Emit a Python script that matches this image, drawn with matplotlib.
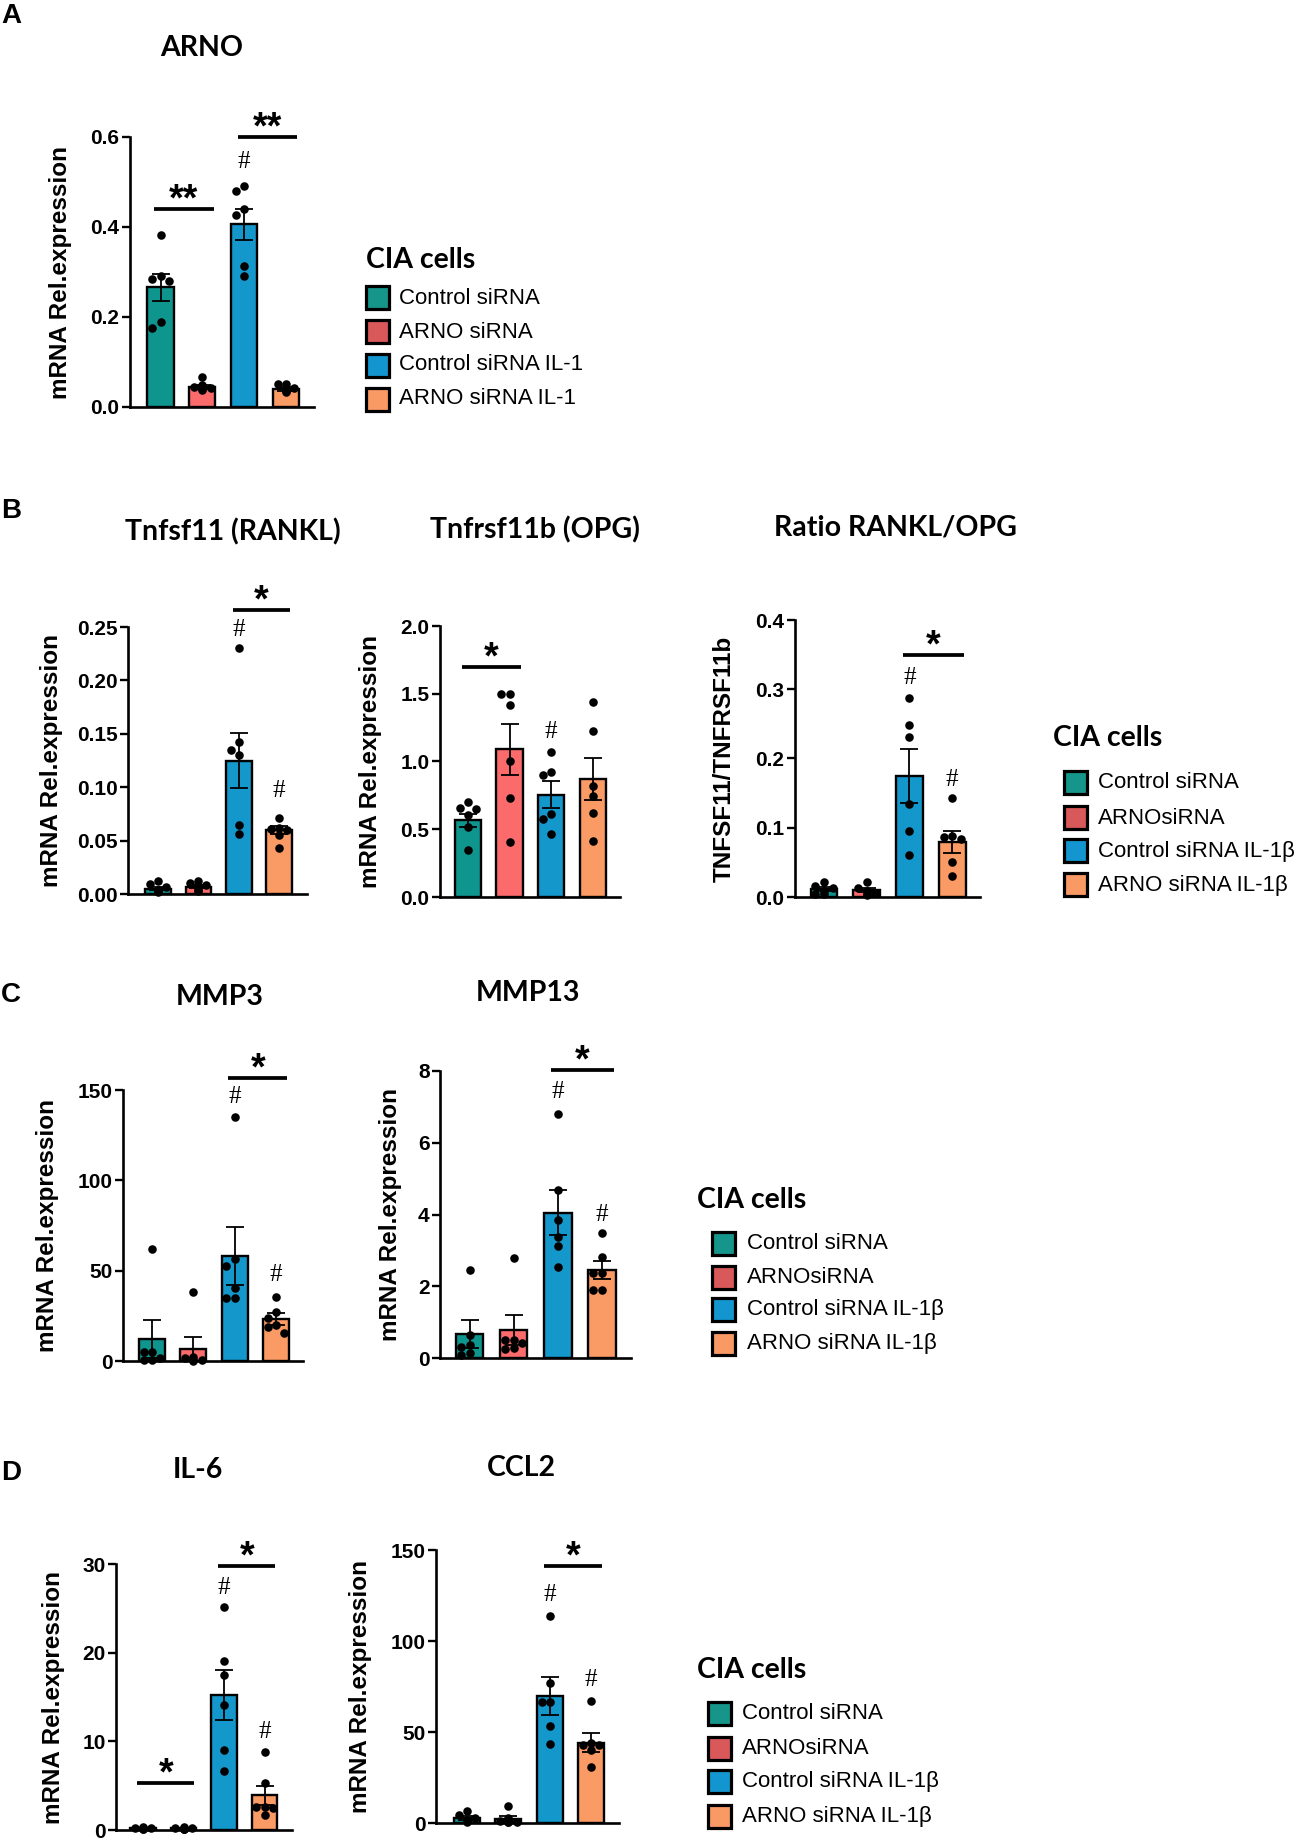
"""
ARNO knockdown in CIA cells - qPCR panels (A-D)
"""
import numpy as np
import matplotlib
matplotlib.use("Agg")
import matplotlib.pyplot as plt
from matplotlib.patches import Rectangle

W, H = 1299, 1844

groups_a = ["Control siRNA", "ARNO siRNA", "Control siRNA IL-1", "ARNO siRNA IL-1"]
groups = ["Control siRNA", "ARNOsiRNA", "Control siRNA IL-1β", "ARNO siRNA IL-1β"]

bar_colors = ["#0E968E", "#FC6B6B", "#1497CB", "#FA9A64"]
legend_colors = ["#16968B", "#D9585A", "#1396CF", "#F99A65"]

# ARNO
arno_mean = [0.266, 0.045, 0.406, 0.040]
arno_sem = [0.030, 0.004, 0.035, 0.004]
arno_pts = [[0.382, 0.290, 0.285, 0.280, 0.188, 0.175],
            [0.066, 0.048, 0.045, 0.042, 0.040, 0.038],
            [0.490, 0.480, 0.440, 0.426, 0.314, 0.290],
            [0.052, 0.050, 0.042, 0.038, 0.035, 0.033]]

# Tnfsf11 (RANKL)
rankl_mean = [0.005, 0.007, 0.125, 0.060]
rankl_sem = [0.0015, 0.0015, 0.026, 0.0035]
rankl_pts = [[0.012, 0.009, 0.007, 0.004, 0.003, 0.002],
             [0.0125, 0.010, 0.008, 0.007, 0.004, 0.003],
             [0.230, 0.142, 0.135, 0.130, 0.065, 0.056],
             [0.071, 0.062, 0.061, 0.060, 0.055, 0.043]]

# Tnfrsf11b (OPG)
opg_mean = [0.566, 1.089, 0.756, 0.872]
opg_sem = [0.050, 0.190, 0.100, 0.157]
opg_pts = [[0.700, 0.658, 0.653, 0.603, 0.517, 0.350],
           [1.497, 1.497, 1.420, 1.005, 0.734, 0.406],
           [1.071, 0.924, 0.899, 0.610, 0.579, 0.468],
           [1.436, 1.222, 0.820, 0.744, 0.623, 0.414]]

# Ratio RANKL/OPG
ratio_mean = [0.011, 0.010, 0.175, 0.079]
ratio_sem = [0.003, 0.003, 0.039, 0.016]
ratio_pts = [[0.022, 0.016, 0.013, 0.008, 0.005, 0.004],
             [0.022, 0.013, 0.009, 0.006, 0.004, 0.003],
             [0.287, 0.249, 0.231, 0.135, 0.096, 0.061],
             [0.143, 0.0875, 0.086, 0.0837, 0.051, 0.030]]

# MMP3
mmp3_mean = [12.2, 6.8, 58.3, 23.1]
mmp3_sem = [10.5, 6.7, 16.0, 3.3]
mmp3_pts = [[62.0, 5.2, 5.0, 1.5, 0.6, 0.5],
            [38.0, 2.4, 1.5, 0.6, 0.4, 0.2],
            [134.9, 56.5, 52.8, 40.6, 34.7, 34.7],
            [35.6, 26.9, 23.6, 19.9, 19.0, 15.7]]

# MMP13
mmp13_mean = [0.68, 0.79, 4.05, 2.46]
mmp13_sem = [0.39, 0.42, 0.63, 0.25]
mmp13_pts = [[2.44, 0.65, 0.37, 0.32, 0.14, 0.09],
             [2.80, 0.51, 0.50, 0.42, 0.28, 0.25],
             [6.81, 4.68, 3.86, 3.38, 3.12, 2.55],
             [3.48, 2.81, 2.36, 2.36, 1.90, 1.90]]

# IL-6
il6_mean = [0.2, 0.2, 15.2, 3.9]
il6_sem = [0.05, 0.05, 2.8, 1.1]
il6_pts = [[0.30, 0.25, 0.20, 0.20, 0.15, 0.10],
           [0.30, 0.25, 0.20, 0.15, 0.15, 0.10],
           [25.2, 19.1, 17.5, 14.1, 9.0, 6.65],
           [8.76, 5.26, 2.63, 2.63, 2.44, 1.69]]

# CCL2
ccl2_mean = [2.7, 2.4, 69.8, 44.2]
ccl2_sem = [1.0, 1.4, 10.2, 5.2]
ccl2_pts = [[6.4, 4.6, 2.5, 1.5, 1.0, 0.8],
            [9.1, 2.7, 1.0, 0.8, 0.5, 0.3],
            [113.9, 76.8, 66.7, 66.7, 53.4, 43.3],
            [67.3, 44.2, 43.0, 43.0, 40.0, 30.5]]

# layout in pixels: y-axis x, x-axis end, top tick y, baseline y, first bar x, bar spacing
panels = [
    dict(title="ARNO", tpos=(202, 48), box=(130, 314, 137, 407, 160.5, 41.8),
         mean=arno_mean, sem=arno_sem, pts=arno_pts,
         ticks=[0, 0.2, 0.4, 0.6], fmt="{:.1f}", ylab="mRNA Rel.expression", ylx=61,
         sig=[(0, 1, 0.439, "**"), (2, 3, 0.599, "**")], hash=[(2, 0.545)]),
    dict(title="Tnfsf11 (RANKL)", tpos=(233, 532), box=(128, 307, 627, 894, 158, 40.4),
         mean=rankl_mean, sem=rankl_sem, pts=rankl_pts,
         ticks=[0, 0.05, 0.10, 0.15, 0.20, 0.25], fmt="{:.2f}", ylab="mRNA Rel.expression", ylx=52,
         sig=[(2, 3, 0.2656, "*")], hash=[(2, 0.247), (3, 0.096)]),
    dict(title="Tnfrsf11b (OPG)", tpos=(535, 530), box=(440, 620, 626, 897, 468, 41.6),
         mean=opg_mean, sem=opg_sem, pts=opg_pts,
         ticks=[0, 0.5, 1.0, 1.5, 2.0], fmt="{:.1f}", ylab="mRNA Rel.expression", ylx=370,
         sig=[(0, 1, 1.70, "*")], hash=[(2, 1.22)]),
    dict(title="Ratio RANKL/OPG", tpos=(895, 527), box=(795, 980, 620, 897, 824, 42.7),
         mean=ratio_mean, sem=ratio_sem, pts=ratio_pts,
         ticks=[0, 0.1, 0.2, 0.3, 0.4], fmt="{:.1f}", ylab="TNFSF11/TNFRSF11b", ylx=724,
         sig=[(2, 3, 0.350, "*")], hash=[(2, 0.316), (3, 0.169)]),
    dict(title="MMP3", tpos=(220, 997), box=(123, 303, 1090, 1361, 152, 41.3),
         mean=mmp3_mean, sem=mmp3_sem, pts=mmp3_pts,
         ticks=[0, 50, 100, 150], fmt="{:.0f}", ylab="mRNA Rel.expression", ylx=48,
         sig=[(2, 3, 156.8, "*")], hash=[(2, 146), (3, 47.6)]),
    dict(title="MMP13", tpos=(528, 993), box=(440, 631, 1071, 1358, 469.5, 44.1),
         mean=mmp13_mean, sem=mmp13_sem, pts=mmp13_pts,
         ticks=[0, 2, 4, 6, 8], fmt="{:.0f}", ylab="mRNA Rel.expression", ylx=390,
         sig=[(2, 3, 8.02, "*")], hash=[(2, 7.41), (3, 3.99)]),
    dict(title="IL-6", tpos=(198, 1470), box=(116, 292, 1564, 1830, 143, 40.5),
         mean=il6_mean, sem=il6_sem, pts=il6_pts,
         ticks=[0, 10, 20, 30], fmt="{:.0f}", ylab="mRNA Rel.expression", ylx=54,
         sig=[(0, 1, 5.26, "*"), (2, 3, 29.8, "*")], hash=[(2, 27.3), (3, 11.1)]),
    dict(title="CCL2", tpos=(521, 1468), box=(436, 619, 1550, 1823, 467, 41.4),
         mean=ccl2_mean, sem=ccl2_sem, pts=ccl2_pts,
         ticks=[0, 50, 100, 150], fmt="{:.0f}", ylab="mRNA Rel.expression", ylx=361,
         sig=[(2, 3, 141.1, "*")], hash=[(2, 125.2), (3, 78.6)]),
]

# legend blocks: title x, title y, square x, square size, text x, row ys
legends = [
    (groups_a, 366, 260, 366, 23, 399, [298, 332, 365, 399]),
    (groups, 1053, 738, 1064, 23, 1098, [783, 818, 851, 885]),
    (groups, 697, 1200, 712, 23, 747, [1243, 1277, 1309, 1343]),
    (groups, 697, 1670, 708, 23, 742, [1713, 1748, 1781, 1816]),
]

letters = [("A", 16), ("B", 511), ("C", 995), ("D", 1473)]

TITLE_FONT = "Lato"
ARIAL = "Liberation Sans"


def fx(x):
    return x / W


def fy(y):
    return 1 - y / H


def spread(vals, thr):
    """simple horizontal spread of points that would overlap"""
    placed = []
    offs = []
    for v in vals:
        near = [o for pv, o in placed if abs(pv - v) < thr]
        chosen = 0.0
        for cand in [0.0, -0.2, 0.2, -0.1, 0.1, -0.28, 0.28]:
            if all(abs(cand - o) >= 0.17 for o in near):
                chosen = cand
                break
        placed.append((v, chosen))
        offs.append(chosen)
    return offs


fig = plt.figure(figsize=(W / 100, H / 100), dpi=100)

for p in panels:
    x0, x1, ytp, ybs, c0, sp = p["box"]
    ytop = p["ticks"][-1]
    ax = fig.add_axes([fx(x0), fy(ybs), (x1 - x0) / W, (ybs - ytp) / H])
    ax.set_xlim((x0 - c0) / sp, (x1 - c0) / sp)
    ax.set_ylim(0, ytop)

    xs = np.arange(4)
    ax.bar(xs, p["mean"], width=0.63, color=bar_colors, edgecolor="black",
           linewidth=1.7, zorder=2)
    ax.errorbar(xs, p["mean"], yerr=p["sem"], fmt="none", ecolor="black",
                elinewidth=1.3, capsize=6.5, capthick=1.3, zorder=3)

    thr = 8 * ytop / (ybs - ytp)
    for i, vals in enumerate(p["pts"]):
        offs = spread(vals, thr)
        ax.scatter(i + np.array(offs), vals, s=38, color="black", zorder=4,
                   clip_on=False, linewidths=0)

    for i, j, yv, lab in p["sig"]:
        ax.plot([i - 0.15, j + 0.27], [yv, yv], color="black", lw=2.7,
                solid_capstyle="butt", clip_on=False)
        ax.annotate(lab, xy=((i + j) / 2 + 0.06, yv), xytext=(0, -1),
                    textcoords="offset points", ha="center", va="baseline",
                    fontsize=27, fontweight="bold", family=ARIAL,
                    annotation_clip=False)
    for i, yv in p["hash"]:
        ax.text(i, yv, "#", ha="center", va="center", fontsize=18,
                family="Liberation Serif", clip_on=False)

    ax.set_yticks(p["ticks"])
    ax.set_yticklabels([p["fmt"].format(t) for t in p["ticks"]],
                       fontsize=15, fontweight="bold", family=ARIAL)
    ax.set_xticks([])
    ax.tick_params(axis="y", direction="out", length=6, width=1.7, pad=1.5)
    for s in ["top", "right"]:
        ax.spines[s].set_visible(False)
    for s in ["left", "bottom"]:
        ax.spines[s].set_linewidth(1.9)

    fig.text(fx(p["tpos"][0]), fy(p["tpos"][1]), p["title"], ha="center",
             va="center", fontsize=20.5, fontweight="bold", family=TITLE_FONT)
    fig.text(fx(p["ylx"]), fy((ytp + ybs) / 2), p["ylab"], rotation=90,
             ha="center", va="center", fontsize=17.5, fontweight="bold",
             family=ARIAL)

for labels, tx, ty, sx, ss, lx, rows in legends:
    fig.text(fx(tx), fy(ty), "CIA cells", ha="left", va="center",
             fontsize=20.5, fontweight="bold", family=TITLE_FONT)
    for lab, col, ry in zip(labels, legend_colors, rows):
        fig.add_artist(Rectangle((fx(sx), fy(ry + ss / 2)), ss / W, ss / H,
                                 transform=fig.transFigure, facecolor=col,
                                 edgecolor="black", linewidth=2.3))
        fig.text(fx(lx), fy(ry), lab, ha="left", va="center", fontsize=16,
                 family=ARIAL)

for letter, ly in letters:
    fig.text(fx(1), fy(ly), letter, ha="left", va="center", fontsize=20,
             fontweight="bold", family=ARIAL)

fig.savefig("out.png", dpi=100)
